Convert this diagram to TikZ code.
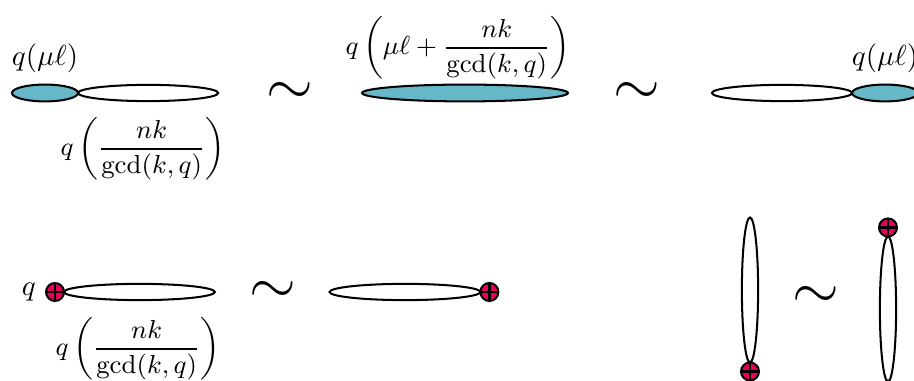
\documentclass[tikz,border=0pt]{standalone}
\usepackage{amsmath}
\usepackage{xcolor}
\usepackage{tikz}
\usetikzlibrary{shapes.geometric, positioning}
\definecolor{loopcyan}{RGB}{102, 184, 200}
\definecolor{markred}{RGB}{232, 0, 90}

\begin{document}
\begin{tikzpicture}[
    x=0.01212cm, y=-0.01212cm,
    loopc/.style={ellipse, draw, line width=0.7pt, fill=loopcyan, inner sep=0pt,
                  outer sep=0pt, minimum width=22.8pt, minimum height=5.8pt},
    loopw/.style={loopc, fill=white, minimum width=48.3pt, minimum height=5.6pt},
    loopv/.style={loopw, minimum width=5.6pt, minimum height=50pt},
    markpt/.style={circle, draw, line width=0.7pt, fill=markred, inner sep=0pt,
                   outer sep=0pt, minimum size=6.2pt,
                   path picture={\draw[line width=0.8pt]
                       (path picture bounding box.north) -- (path picture bounding box.south)
                       (path picture bounding box.west) -- (path picture bounding box.east);}},
    fraclab/.style={font=\small},
    equiv/.style={font=\huge}
]
    \useasboundingbox (0,0) rectangle (914,381);
    % top row
    \node[loopc] (muA) at (45,93) {};
    \node[loopw, right=0pt of muA] (nkA) {};
    \node (labmuA) at (45,58) {$q(\mu\ell)$};
    \node[fraclab] (labnkA) at (143,149) {$q\left(\dfrac{nk}{\gcd(k,q)}\right)$};
    \node[equiv] (simA) at (290,93) {$\sim$};
    \node[loopc, minimum width=71pt] (sumB) at (465,93) {};
    \node[fraclab, inner sep=0.5pt] (labsumB) at (458,48) {$q\left(\mu\ell+\dfrac{nk}{\gcd(k,q)}\right)$};
    \node[equiv] (simB) at (637,93) {$\sim$};
    \node[loopw] (nkC) at (782,93) {};
    \node[loopc, right=0pt of nkC] (muC) {};
    \node (labmuC) at (885,58) {$q(\mu\ell)$};
    % bottom row
    \node[markpt] (qD) at (55,292) {};
    \node[left=0pt of qD] (labqD) {$q$};
    \node[loopw, minimum width=52pt, right=0pt of qD] (nkD) {};
    \node[fraclab] (labnkD) at (138,349) {$q\left(\dfrac{nk}{\gcd(k,q)}\right)$};
    \node[equiv] (simD) at (273,292) {$\sim$};
    \node[loopw, minimum width=52pt] (nkE) at (405,292) {};
    \node[markpt, right=0pt of nkE] (qE) {};
    % vertical pair
    \node[loopv] (nkF) at (750,290) {};
    \node[markpt, below=0pt of nkF] (qF) {};
    \node[equiv] (simF) at (816,297) {$\sim$};
    \node[loopv] (nkG) at (888,309) {};
    \node[markpt, above=0pt of nkG] (qG) {};
\end{tikzpicture}
\end{document}
